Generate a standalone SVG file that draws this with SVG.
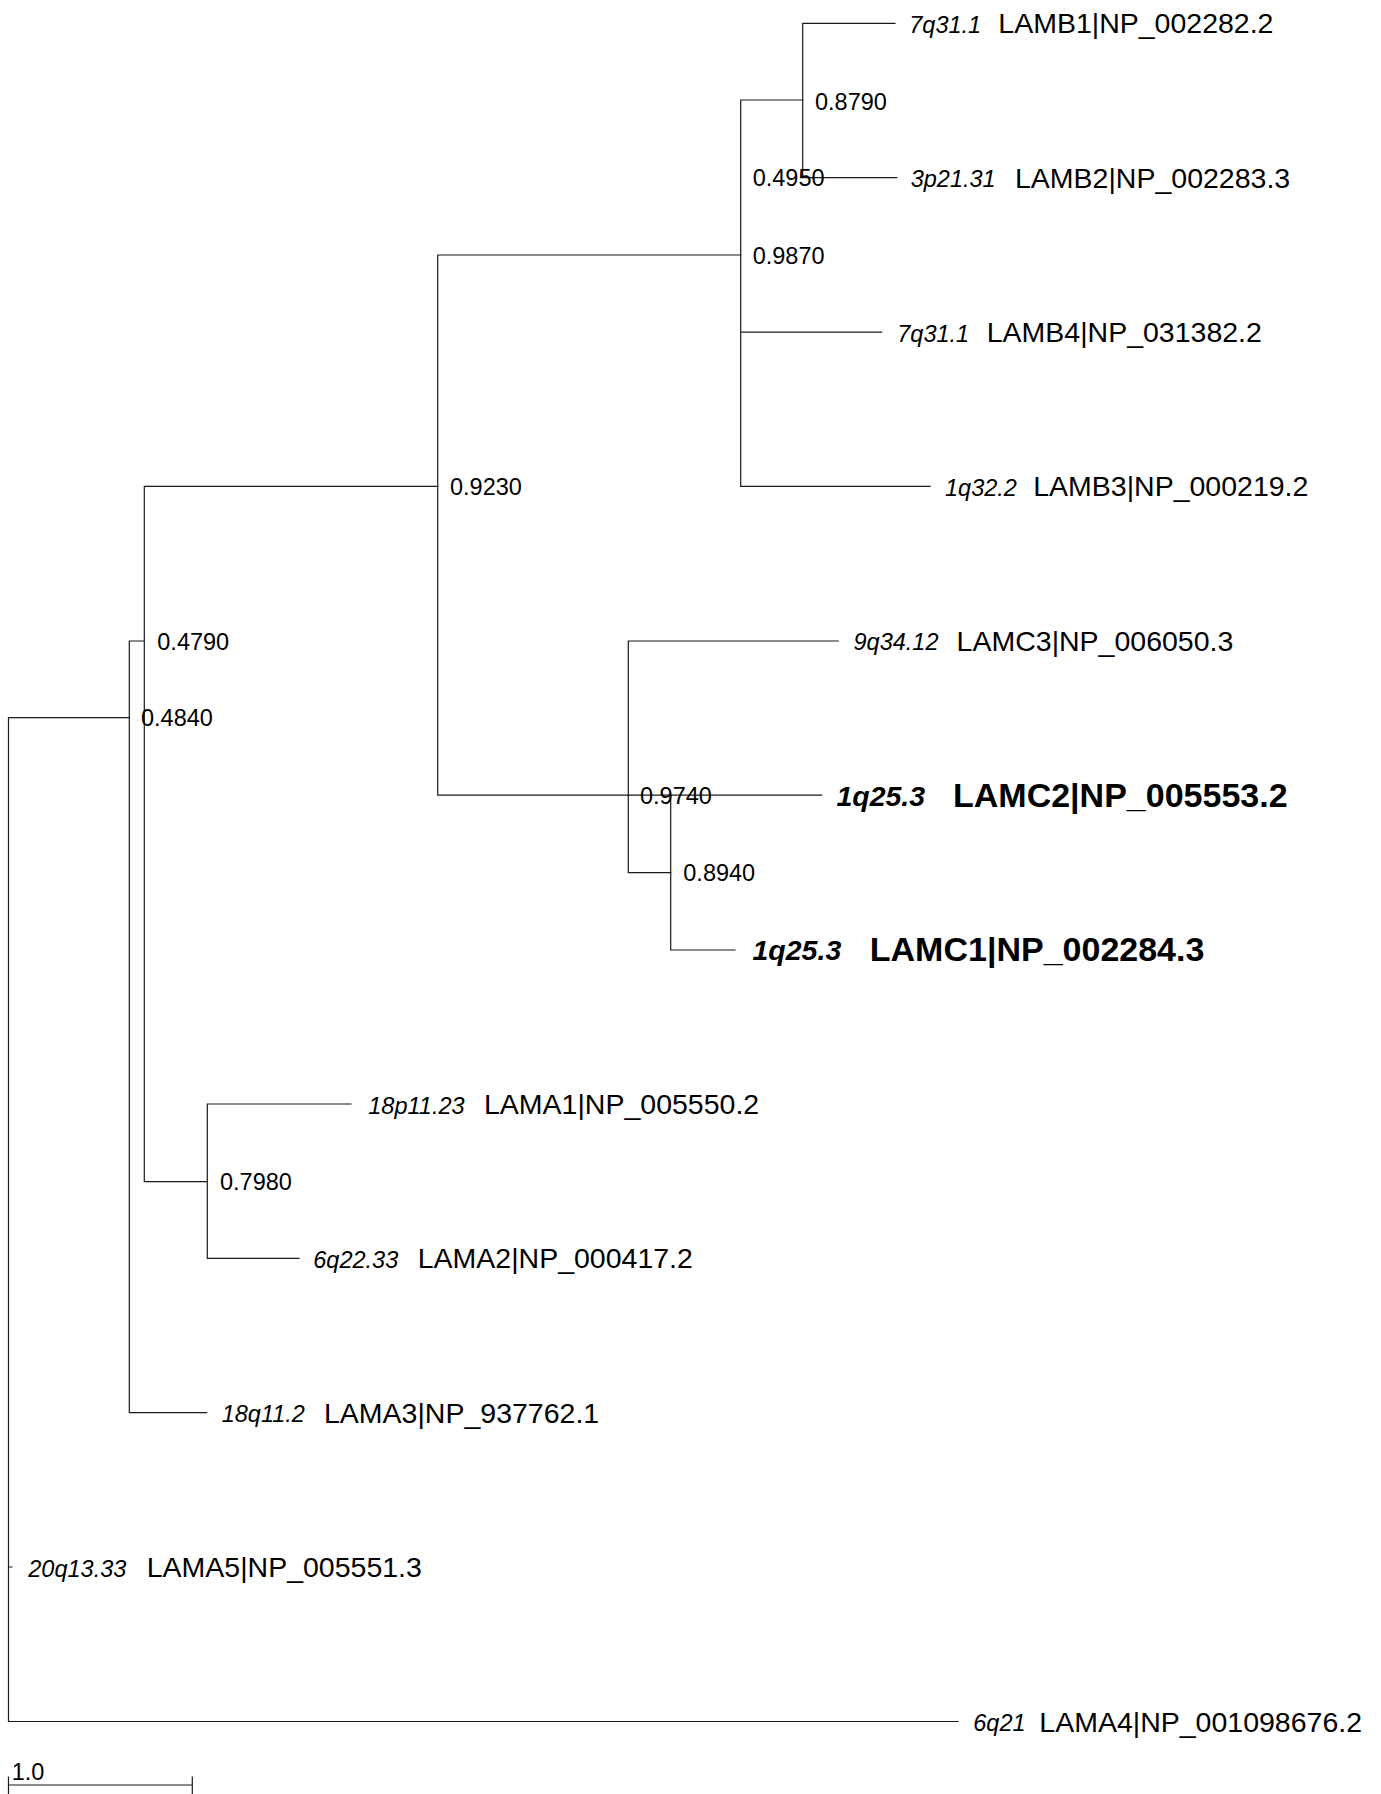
<svg xmlns="http://www.w3.org/2000/svg" width="1381" height="1794" viewBox="0 0 1381 1794">
<style>
.br{stroke:#1a1a1a;stroke-width:1.2;fill:none;stroke-linecap:square}
.bs{font-family:"Liberation Sans",Arial,sans-serif;font-size:23.5px;fill:#000}
.loc{font-family:"Liberation Sans",Arial,sans-serif;font-size:23.5px;font-style:italic;fill:#000}
.lab{font-family:"Liberation Sans",Arial,sans-serif;font-size:28.5px;fill:#000}
.locb{font-family:"Liberation Sans",Arial,sans-serif;font-size:28.5px;font-style:italic;font-weight:bold;fill:#000}
.labb{font-family:"Liberation Sans",Arial,sans-serif;font-size:34px;font-weight:bold;fill:#000}
</style>
<rect width="1381" height="1794" fill="#fff"/>
<g id="connectors">
<!-- root -->
<path class="br" d="M8.5,717.7 V1721.5 M8.5,717.7 H129.3 M8.5,1567 H12 M8.5,1721.5 H958"/>
<!-- node 0.4840 -->
<path class="br" d="M129.3,641 V1412.7 M129.3,641 H144.3 M129.3,1412.7 H206.7"/>
<!-- node 0.4790 -->
<path class="br" d="M144.3,486.4 V1181.7 M144.3,486.4 H437.7 M144.3,1181.7 H207.3"/>
<!-- node 0.7980 -->
<path class="br" d="M207.3,1104 V1258.3 M207.3,1104 H351 M207.3,1258.3 H299"/>
<!-- node 0.9230 -->
<path class="br" d="M437.7,255 V795.2 M437.7,255 H740.7 M437.7,795.2 H628.3"/>
<!-- node 0.9870 / 0.4950 -->
<path class="br" d="M740.7,100 V486.4 M740.7,177.7 V332.1 M740.7,100 H802.7 M740.7,332.1 H881.7 M740.7,486.4 H930"/>
<!-- node 0.8790 -->
<path class="br" d="M802.7,23.3 V177.7 M802.7,23.3 H895 M802.7,177.7 H896.7"/>
<!-- node 0.9740 -->
<path class="br" d="M628.3,641 V872.7 M628.3,641 H838.3 M628.3,872.7 H670.7"/>
<!-- node 0.8940 -->
<path class="br" d="M670.7,795.2 V950 M628.3,795.2 H821.7 M670.7,950 H735"/>
<!-- scale bar -->
<path class="br" d="M8.5,1785 H192.3 M8.5,1777 V1794 M192.3,1777 V1794"/>
</g>
<g id="node-0.8790"><text class="bs" x="815" y="110">0.8790</text></g>
<g id="node-0.4950"><text class="bs" x="752.7" y="186">0.4950</text></g>
<g id="node-0.9870"><text class="bs" x="752.7" y="263.5">0.9870</text></g>
<g id="node-0.9230"><text class="bs" x="450" y="495">0.9230</text></g>
<g id="node-0.4790"><text class="bs" x="157.3" y="650">0.4790</text></g>
<g id="node-0.4840"><text class="bs" x="141" y="726.2">0.4840</text></g>
<g id="node-0.9740"><text class="bs" x="640" y="803.7">0.9740</text></g>
<g id="node-0.8940"><text class="bs" x="683.3" y="881.2">0.8940</text></g>
<g id="node-0.7980"><text class="bs" x="220" y="1190.2">0.7980</text></g>
<g id="leaf-LAMB1"><text class="loc" x="909.3" y="32.8">7q31.1</text><text class="lab" x="998.3" y="33.3">LAMB1|NP_002282.2</text></g>
<g id="leaf-LAMB2"><text class="loc" x="910.7" y="187.2">3p21.31</text><text class="lab" x="1015" y="187.7">LAMB2|NP_002283.3</text></g>
<g id="leaf-LAMB4"><text class="loc" x="897.3" y="341.6">7q31.1</text><text class="lab" x="986.7" y="342.1">LAMB4|NP_031382.2</text></g>
<g id="leaf-LAMB3"><text class="loc" x="945" y="495.9">1q32.2</text><text class="lab" x="1033.2" y="496.4">LAMB3|NP_000219.2</text></g>
<g id="leaf-LAMC3"><text class="loc" x="853.5" y="650.3">9q34.12</text><text class="lab" x="956.6" y="650.8">LAMC3|NP_006050.3</text></g>
<g id="leaf-LAMC2"><text class="locb" x="836.4" y="805.7">1q25.3</text><text class="labb" x="953" y="806.5">LAMC2|NP_005553.2</text></g>
<g id="leaf-LAMC1"><text class="locb" x="752.5" y="960.1">1q25.3</text><text class="labb" x="869.8" y="960.9">LAMC1|NP_002284.3</text></g>
<g id="leaf-LAMA1"><text class="loc" x="368.3" y="1113.5">18p11.23</text><text class="lab" x="484" y="1114">LAMA1|NP_005550.2</text></g>
<g id="leaf-LAMA2"><text class="loc" x="313.3" y="1267.8">6q22.33</text><text class="lab" x="417.7" y="1268.3">LAMA2|NP_000417.2</text></g>
<g id="leaf-LAMA3"><text class="loc" x="221.7" y="1422.2">18q11.2</text><text class="lab" x="324" y="1422.7">LAMA3|NP_937762.1</text></g>
<g id="leaf-LAMA5"><text class="loc" x="28.3" y="1576.5">20q13.33</text><text class="lab" x="146.7" y="1577">LAMA5|NP_005551.3</text></g>
<g id="leaf-LAMA4"><text class="loc" x="973.3" y="1731">6q21</text><text class="lab" x="1039.3" y="1731.5">LAMA4|NP_001098676.2</text></g>
<g id="scale"><text class="bs" x="11.7" y="1780">1.0</text></g>
</svg>
